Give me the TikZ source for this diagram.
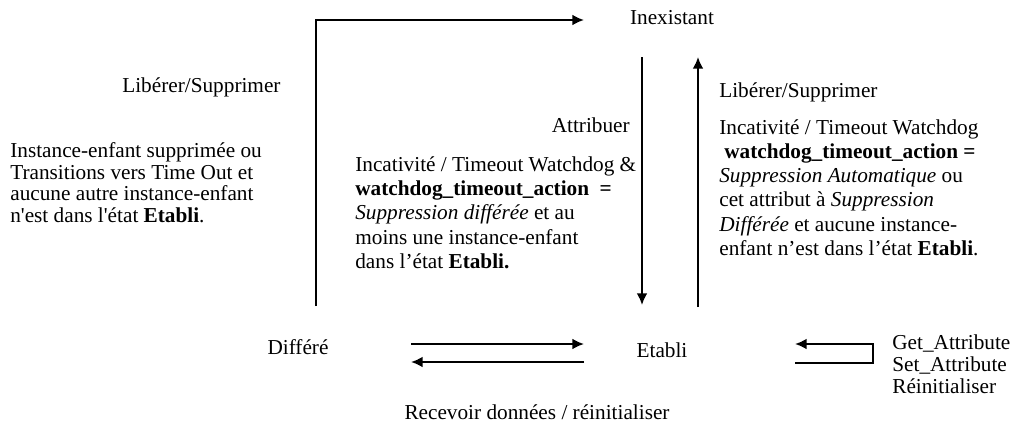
\documentclass[tikz,border=0pt]{standalone}
\usepackage{fontspec}
\setmainfont{Liberation Serif}
\usetikzlibrary{arrows.meta}

\tikzset{
  etat/.style={inner sep=0pt, font=\fontsize{12.7}{15}\selectfont},
  texte/.style={inner sep=0pt, align=left, font=\fontsize{12.7}{14.5}\selectfont},
  serre/.style={texte, font=\fontsize{12.7}{13}\selectfont},
  fleche/.style={->, line width=1.2pt}
}

\begin{document}
\begin{tikzpicture}[>={Latex[length=7pt,width=6.5pt]}]

\useasboundingbox (0,0) rectangle (21.21,8.904);

% States
\node [etat] (inex) at (14.112,8.526) {Inexistant};
\node [etat] (diff) at (6.258,1.617) {Différé};
\node [etat] (etab) at (13.902,1.554) {Etabli};

% Labels of the transitions
\node [etat] (lib1) at (4.23,7.077) {Libérer/Supprimer};
\node [etat, anchor=west] (lib2) at (15.099,6.972) {Libérer/Supprimer};
\node [etat, anchor=east] (attr) at (13.23,6.279) {Attribuer};
\node [etat] (recv) at (11.277,0.252) {Recevoir données / réinitialiser};

\node [serre, anchor=west] (cond1) at (0.21,5.07) {Instance-enfant supprimée ou\\
  Transitions vers Time Out et\\
  aucune autre instance-enfant\\
  n\textquotesingle est dans l\textquotesingle état \textbf{Etabli}.};

\node [texte, anchor=west] (cond2) at (7.455,4.44) {Incativité / Timeout Watchdog \&\\
  \textbf{watchdog\_timeout\_action\ \ =}\\
  \textit{Suppression différée} et au\\
  moins une instance-enfant\\
  dans l’état \textbf{Etabli.}};

\node [texte, anchor=west] (cond3) at (15.099,4.967) {Incativité / Timeout Watchdog\\
  \hspace*{3pt}\textbf{watchdog\_timeout\_action =}\\
  \textit{Suppression Automatique} ou\\
  cet attribut à \textit{Suppression}\\
  \textit{Différée} et aucune instance-\\
  enfant n’est dans l’état \textbf{Etabli}.};

\node [serre, anchor=west] (get) at (18.732,1.26) {Get\_Attribute\\
  Set\_Attribute\\
  Réinitialiser};

% Free ends of the connectors
\coordinate (d0) at (6.636,2.478);
\coordinate (i0) at (12.264,8.484);
\coordinate (a0) at (13.482,7.707);
\coordinate (a1) at (13.482,2.499);
\coordinate (s0) at (14.658,2.457);
\coordinate (s1) at (14.658,7.707);
\coordinate (h0) at (8.631,1.68);
\coordinate (h1) at (12.264,1.68);
\coordinate (h2) at (12.264,1.302);
\coordinate (h3) at (8.631,1.302);
\coordinate (r0) at (16.695,1.281);
\coordinate (r1) at (18.333,1.68);
\coordinate (r2) at (16.695,1.68);

% Transitions
\draw [fleche] (d0) |- (i0);
\draw [fleche] (a0) -- (a1);
\draw [fleche] (s0) -- (s1);
\draw [fleche] (h0) -- (h1);
\draw [fleche] (h2) -- (h3);
\draw [fleche] (r0) -| (r1) -- (r2);

\end{tikzpicture}
\end{document}
